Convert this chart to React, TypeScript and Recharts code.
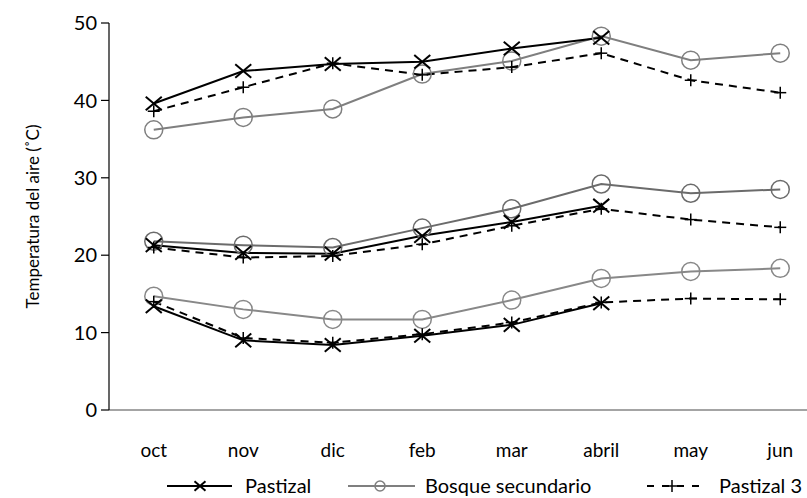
import { Legend, Line, LineChart, XAxis, YAxis } from 'recharts';

const months = ['oct', 'nov', 'dic', 'feb', 'mar', 'abril', 'may', 'jun'];

// Pastizal: sólo oct-abril
const pastizalMax = [39.6, 43.8, 44.7, 45.0, 46.7, 48.1, null, null];
const pastizalMed = [21.3, 20.3, 20.2, 22.5, 24.3, 26.4, null, null];
const pastizalMin = [13.4, 9.0, 8.4, 9.6, 11.0, 13.8, null, null];

const bosqueMax = [36.2, 37.8, 38.9, 43.4, 45.1, 48.3, 45.2, 46.1];
const bosqueMed = [21.8, 21.3, 21.0, 23.5, 26.0, 29.2, 28.0, 28.5];
const bosqueMin = [14.7, 13.0, 11.7, 11.7, 14.2, 17.0, 17.9, 18.3];

const pastizal3Max = [38.6, 41.7, 44.8, 43.3, 44.3, 46.1, 42.6, 41.0];
const pastizal3Med = [21.0, 19.7, 19.9, 21.4, 23.8, 26.0, 24.6, 23.6];
const pastizal3Min = [14.0, 9.3, 8.7, 9.8, 11.3, 13.9, 14.4, 14.3];

const yTicks = [0, 10, 20, 30, 40, 50];

const data = months.map((m, i) => ({
  mes: m,
  pMax: pastizalMax[i],
  pMed: pastizalMed[i],
  pMin: pastizalMin[i],
  bMax: bosqueMax[i],
  bMed: bosqueMed[i],
  bMin: bosqueMin[i],
  p3Max: pastizal3Max[i],
  p3Med: pastizal3Med[i],
  p3Min: pastizal3Min[i],
}));

const FONT = 'Lato, "Open Sans", sans-serif';
const GRAY = '#7f7f7f';

const crossDot = (props: any, s = 8) => {
  const { cx, cy, index } = props;
  if (cx == null || cy == null) return <g key={index} />;
  return (
    <g key={index} stroke="#000" strokeWidth={2}>
      <line x1={cx - s} y1={cy - s * 0.85} x2={cx + s} y2={cy + s * 0.85} />
      <line x1={cx - s} y1={cy + s * 0.85} x2={cx + s} y2={cy - s * 0.85} />
    </g>
  );
};

const circleDot = (color: string, r = 9) => (props: any) => {
  const { cx, cy, index } = props;
  if (cx == null || cy == null) return <g key={index} />;
  return <circle key={index} cx={cx} cy={cy} r={r} fill="none" stroke={color} strokeWidth={1.5} />;
};

const plusDot = (props: any, s = 6) => {
  const { cx, cy, index } = props;
  if (cx == null || cy == null) return <g key={index} />;
  return (
    <g key={index} stroke="#000" strokeWidth={1.5}>
      <line x1={cx - s} y1={cy} x2={cx + s} y2={cy} />
      <line x1={cx} y1={cy - s} x2={cx} y2={cy + s} />
    </g>
  );
};

const renderLegend = () => (
  <svg width={807} height={30} style={{ display: 'block' }}>
    <g fontFamily={FONT} fontSize={20} fill="#000">
      <line x1={167} y1={18} x2={232} y2={18} stroke="#000" strokeWidth={2} />
      {crossDot({ cx: 200, cy: 18, index: 'l1' }, 5.5)}
      <text x={245} y={25}>Pastizal</text>
      <line x1={348} y1={18} x2={415} y2={18} stroke={GRAY} strokeWidth={2} />
      {circleDot(GRAY, 5)({ cx: 380, cy: 18, index: 'l2' })}
      <text x={425} y={25}>Bosque secundario</text>
      <line x1={647} y1={18} x2={704} y2={18} stroke="#000" strokeWidth={2} strokeDasharray="7 8" />
      {plusDot({ cx: 672, cy: 18, index: 'l3' }, 6)}
      <text x={719} y={25}>Pastizal 3</text>
    </g>
  </svg>
);

const xTick = (props: any) => {
  const { x, y, payload } = props;
  return (
    <text x={x} y={y + 42} textAnchor="middle" dominantBaseline="middle" fontFamily={FONT} fontSize={19} fill="#000">
      {payload.value}
    </text>
  );
};

const yLabel = (props: any) => {
  const { viewBox } = props;
  const cy = viewBox.y + viewBox.height / 2;
  return (
    <text
      transform={`translate(35, ${cy}) rotate(-90)`}
      textAnchor="middle"
      dominantBaseline="middle"
      fontFamily={FONT}
      fontSize={17}
      fill="#000"
    >
      Temperatura del aire (˚C)
    </text>
  );
};

export default function App() {
  return (
    <div style={{ position: 'absolute', left: 0, top: 0, width: 807, height: 498, overflow: 'hidden', background: '#fff' }}>
      <LineChart width={830} height={498} data={data} margin={{ top: 23, right: 5, left: 0, bottom: 0 }}>
        <XAxis
          dataKey="mes"
          height={58}
          tickLine={false}
          tickSize={0}
          tickMargin={0}
          padding={{ left: 44.75, right: 44.75 }}
          axisLine={{ stroke: '#868686', strokeWidth: 1.5 }}
          tick={xTick}
          interval={0}
        />
        <YAxis
          width={109}
          domain={[0, 50]}
          ticks={yTicks}
          tickSize={8}
          tickMargin={4}
          axisLine={{ stroke: '#000', strokeWidth: 1.2 }}
          tickLine={{ stroke: '#000', strokeWidth: 1.2 }}
          tick={{ fill: '#000', fontSize: 20, fontFamily: FONT }}
          label={{ content: yLabel }}
        />
        <Legend verticalAlign="bottom" content={renderLegend} wrapperStyle={{ left: 0, width: 807, height: 30 }} />

        <Line dataKey="bMax" stroke={GRAY} strokeWidth={2} dot={circleDot(GRAY)} isAnimationActive={false} legendType="none" />
        <Line dataKey="bMed" stroke="#6b6b6b" strokeWidth={2} dot={circleDot('#6b6b6b')} isAnimationActive={false} legendType="none" />
        <Line dataKey="bMin" stroke="#888" strokeWidth={2} dot={circleDot('#888')} isAnimationActive={false} legendType="none" />

        <Line dataKey="p3Max" stroke="#000" strokeWidth={2} strokeDasharray="8 6" dot={plusDot} isAnimationActive={false} legendType="none" />
        <Line dataKey="p3Med" stroke="#000" strokeWidth={2} strokeDasharray="8 6" dot={plusDot} isAnimationActive={false} legendType="none" />
        <Line dataKey="p3Min" stroke="#000" strokeWidth={2} strokeDasharray="8 6" dot={plusDot} isAnimationActive={false} legendType="none" />

        <Line dataKey="pMax" stroke="#000" strokeWidth={2} dot={crossDot} isAnimationActive={false} legendType="none" />
        <Line dataKey="pMed" stroke="#000" strokeWidth={2} dot={crossDot} isAnimationActive={false} legendType="none" />
        <Line dataKey="pMin" stroke="#000" strokeWidth={2} dot={crossDot} isAnimationActive={false} legendType="none" />
      </LineChart>
    </div>
  );
}
